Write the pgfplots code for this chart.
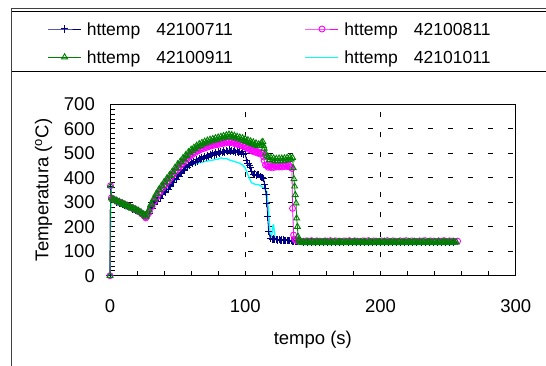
\documentclass[border=0pt]{standalone}
\usepackage{pgfplots}
\pgfplotsset{compat=1.18}
\usepackage{fontspec}
\setmainfont{Liberation Sans}
\definecolor{navyc}{RGB}{0,0,128}
\definecolor{magc}{RGB}{255,0,255}
\definecolor{grnc}{RGB}{0,128,0}
\definecolor{cyc}{RGB}{0,255,255}
\begin{document}
\begin{tikzpicture}
\useasboundingbox (0,0) rectangle (546bp,366bp);
\draw[line width=1bp, black!75] (11.7bp,-5bp) -- (11.7bp,357bp) -- (560bp,357bp);
\draw[line width=0.8bp] (11.7bp,354.3bp) -- (560bp,354.3bp);
\draw[line width=0.8bp] (11.7bp,294.3bp) -- (560bp,294.3bp);
\begin{axis}[
  scale only axis, width=405.7bp, height=171.4bp,
  at={(110bp,90.3bp)}, anchor=south west,
  xmin=0, xmax=300, ymin=0, ymax=700,
  xtick={0,100,200,300}, ytick={0,100,...,700},
  minor x tick num=4, minor y tick num=4,
  tick pos=left, tick align=inside,
  major tick length=5bp, minor tick length=4.5bp,
  tick style={line width=0.8bp, black},
  grid=major,
  major grid style={dash pattern=on 5bp off 15bp, dash phase=1.7bp, line width=0.7bp, black},
  axis line style={line width=1bp, black},
  clip=false,
  /pgf/number format/assume math mode=true,
  ticklabel style={font=\fontsize{18.5bp}{21bp}\selectfont},
  xticklabel style={anchor=base, yshift=-36.6bp},
  yticklabel style={anchor=east, inner sep=0pt, xshift=-15bp},
  every axis y label/.style={at={(axis description cs:-0.1639,0.5)}, rotate=90, anchor=center, font=\fontsize{18.5bp}{21bp}\selectfont},
  every axis x label/.style={at={(axis description cs:0.5,0)}, anchor=base, yshift=-68.3bp, font=\fontsize{18.5bp}{21bp}\selectfont},
  xlabel={tempo (s)},
  ylabel={Temperatura (\textsuperscript{o}C)},
  legend columns=2,
  legend cell align=left,
  legend style={draw=none, fill=none, at={(axis description cs:-0.1536,1.4936)}, anchor=north west,
    inner sep=0pt, outer sep=0pt, row sep=9.6bp,
    font=\fontsize{17.5bp}{20bp}\selectfont,
    nodes={inner sep=0pt, text height=16bp, text depth=2.6bp},
    /tikz/every odd column/.append style={column sep=5.3bp},
    /tikz/every even column/.append style={column sep=72bp}},
  legend image code/.code={\draw[mark repeat=2,mark phase=2] plot coordinates {(0bp,0bp) (16.5bp,0bp) (33bp,0bp)};},
]
% 42101011 (cyan) drawn first, beneath the others
\addplot[cyc, line width=1.3bp, forget plot] coordinates {
(0,0) (0.8,360) (1.2,312) (3,305) (5,300) (7,296) (9,291) (11,286) (13,281) (15,276) (17,271) (19,266) (21,260) (23,253) (25,246) (26.5,240)
(28,249) (30,268) (32,283) (34,298) (36,312) (38,325) (40,338) (42,348) (44,361) (46,375) (48,388) (50,401) (52,413) (54,425) (56,436) (58,445)
(60,452) (62,455) (64,458) (66,461) (68,463) (70,466) (72,468) (74,471) (76,472) (78,475) (80,476) (82,481) (84,478) (86,479) (88,473) (90,470)
(92,466) (94,463) (96,459) (98,452) (100,440) (101,425) (102.5,405) (104,386) (105,378) (107,374) (110,371) (112,365) (114,355) (116,343)
(117.3,262) (118.5,167) (119.5,160) (120.5,205) (121,207) (122,153) (124,148) (126,146) (130,144) (134,142) (138,140) (142,138)
(150,137) (160,137) (170,137) (180,137) (190,137) (200,137) (210,137) (220,137) (230,137) (240,137) (250,137) (255,137)
};
% 42100711 navy plus
\addplot[navyc, line width=0.8bp, mark=+, mark size=3.6bp, mark options={line width=1bp}] coordinates {
(0,0) (0.4,364) (1,312) (3,306) (5,301) (7,297) (9,292) (11,287) (13,282) (15,277) (17,272) (19,267) (21,261) (23,254) (25,247) (26.5,241)
(28,254) (29,256) (30,274) (31,274) (32,289) (33,289) (34,304) (35,303) (36,318) (37,317) (38,331) (39,330) (40,344) (41,341) (42,354) (43,353)
(44,367) (45,366) (46,381) (47,380) (48,395) (49,394) (50,408) (51,406) (52,420) (53,418) (54,432) (55,430) (56,444) (57,441) (58,454) (59,450)
(60,462) (61,457) (62,468) (63,463) (64,473) (65,468) (66,478) (67,473) (68,483) (69,478) (70,488) (71,482) (72,492) (73,486) (74,496) (75,490)
(76,499) (77,493) (78,502) (79,496) (80,505) (81,499) (82,507) (83,502) (84,509) (85,504) (86,511) (87,506) (88,513) (89,507) (90,512) (91,506)
(92,511) (93,502) (94,509) (95,503) (96,508) (97,499) (98,506) (99,496) (100,498) (101,470) (102,460) (103,452) (103.7,440) (105,425) (106,412)
(107,415) (108,410) (109,414) (110,412) (111,405) (112,402) (113,400) (113.6,398) (114.2,372) (114.8,357) (115.4,330) (116,296) (116.6,240)
(117.3,180) (118.5,153) (119,151) (120,149) (121,150) (122,147) (123,148) (124,146) (125,147) (126,145) (127,146) (128,146) (129,144) (130,145)
(131,145) (132,144) (133,143) (134,143) (135,141) (136,141) (137,140) (138,140) (139,139) (140,139)
(143,137) (146,136) (149,138) (152,136) (155,137) (158,135) (161,137) (164,136) (167,135) (170,137) (173,136) (176,135) (179,137) (182,136)
(185,135) (188,137) (191,136) (194,135) (197,137) (200,136) (203,135) (206,137) (209,136) (212,135) (215,137) (218,136) (221,135) (224,137)
(227,136) (230,135) (233,137) (236,136) (239,135) (242,137) (245,136) (248,135) (251,137) (254,136)
};
\addlegendentry{httemp\hspace{16bp}42100711}
% 42100811 magenta circles
\addplot[magc, line width=0.8bp, mark=o, mark size=3bp, mark options={line width=0.9bp}] coordinates {
(0,0) (0.4,368) (1,318) (2,313) (3,311) (4,308) (5,306) (6,303) (7,301) (8,298) (9,296) (10,293) (11,291) (12,288) (13,285) (14,283) (15,280)
(16,278) (17,275) (18,272) (19,270) (20,267) (21,264) (22,260) (23,256) (24,251) (25,246) (26,240) (26.5,236) (27.2,243)
(28,253) (29,259) (30,277) (31,283) (32,300) (33,304) (34,320) (35,324) (36,339) (37,341) (38,355) (39,357) (40,370) (41,371) (42,384) (43,385)
(44,398) (45,399) (46,412) (47,414) (48,427) (49,428) (50,440) (51,440) (52,452) (53,453) (54,465) (55,465) (56,477) (57,477) (58,488) (59,487)
(60,497) (61,495) (62,505) (63,503) (64,512) (65,509) (66,518) (67,515) (68,523) (69,519) (70,527) (71,523) (72,531) (73,527) (74,534) (75,530)
(76,537) (77,533) (78,540) (79,535) (80,542) (81,537) (82,544) (83,540) (84,546) (85,541) (86,548) (87,544) (88,549) (89,543) (90,548) (91,541)
(92,546) (93,538) (94,543) (95,535) (96,539) (97,531) (98,535) (99,527) (100,531) (101,522) (102,525) (103,515) (104,518) (105,509) (106,513)
(107,505) (108,509) (109,501) (110,505) (111,497) (112,501) (113,500) (113.6,485) (114,470) (115,452)
(116,450) (117,443) (118,449) (119,442) (120,447) (121,442) (122,449) (123,444) (124,451) (125,444) (126,449) (127,444) (128,451) (129,446)
(130,453) (131,446) (132,453) (133,445) (133.5,445) (134.5,438)
(135,275) (135.8,166) (136.5,150) (137.2,146) (138,143) (139,142) (140,141)
(141,141) (143,140) (145,142) (147,141) (149,143) (151,140) (153,142) (155,141) (157,140) (159,142) (161,141) (163,143) (165,140) (167,142)
(169,141) (171,140) (173,142) (175,141) (177,143) (179,140) (181,142) (183,141) (185,140) (187,142) (189,141) (191,143) (193,140) (195,142)
(197,141) (199,140) (201,142) (203,141) (205,143) (207,140) (209,142) (211,141) (213,140) (215,142) (217,141) (219,143) (221,140) (223,142)
(225,141) (227,140) (229,142) (231,141) (233,143) (235,140) (237,142) (239,141) (241,140) (243,142) (245,141) (247,143) (249,140) (251,142)
(253,141) (255,140) (257,141)
};
\addlegendentry{httemp\hspace{16bp}42100811}
% 42100911 green triangles
\addplot[grnc, line width=0.8bp, mark=triangle, mark size=3.4bp, mark options={line width=0.9bp}] coordinates {
(0,0) (0.4,366) (1,316) (2,311) (3,312) (4,305) (5,307) (6,300) (7,302) (8,295) (9,297) (10,290) (11,292) (12,285) (13,286) (14,280) (15,281)
(16,275) (17,277) (18,270) (19,272) (20,265) (21,266) (22,259) (23,259) (24,251) (25,251) (26,243) (26.5,242) (27.2,250)
(28,262) (29,268) (30,289) (31,292) (32,312) (33,314) (34,333) (35,334) (36,351) (37,350) (38,367) (39,365) (40,383) (41,381) (42,397) (43,394)
(44,411) (45,408) (46,425) (47,423) (48,441) (49,438) (50,455) (51,452) (52,467) (53,464) (54,481) (55,477) (56,493) (57,489) (58,505) (59,501)
(60,515) (61,510) (62,523) (63,518) (64,531) (65,526) (66,538) (67,531) (68,543) (69,537) (70,548) (71,541) (72,552) (73,545) (74,556) (75,549)
(76,559) (77,552) (78,562) (79,554) (80,565) (81,557) (82,568) (83,561) (84,571) (85,564) (86,574) (87,567) (88,577) (89,569) (90,575) (91,565)
(92,572) (93,561) (94,568) (95,558) (96,565) (97,554) (98,562) (99,551) (100,559) (101,547) (102,554) (103,542) (104,549) (105,538) (106,545)
(107,534) (108,541) (109,530) (110,537) (111,531) (112,543) (113,547) (113.6,530) (114,520) (115,500) (116,488)
(117,485) (118,474) (119,482) (120,471) (121,480) (122,469) (123,478) (124,468) (125,479) (126,470) (127,479) (128,469) (129,480) (130,471)
(131,482) (132,474) (133,484) (134,476) (135,482)
(135.5,440) (136,395) (136.5,365) (137,330) (137.6,296) (138,235) (138.6,200) (139,160) (139.5,148) (140,142)
(141,138) (142,135) (143,138) (144,134) (145,137) (146,139) (147,135) (148,137) (149,134) (150,138) (151,136) (152,134) (153,139) (154,136)
(155,135) (156,138) (157,134) (158,137) (159,139) (160,135) (161,137) (162,134) (163,138) (164,136) (165,135) (166,139) (167,136) (168,134)
(169,137) (170,139) (171,135) (172,137) (173,134) (174,138) (175,136) (176,135) (177,139) (178,136) (179,134) (180,137) (181,139) (182,135)
(183,137) (184,134) (185,138) (186,136) (187,135) (188,139) (189,136) (190,134) (191,137) (192,139) (193,135) (194,137) (195,134) (196,138)
(197,136) (198,135) (199,139) (200,136) (201,134) (202,137) (203,139) (204,135) (205,137) (206,134) (207,138) (208,136) (209,135) (210,139)
(211,136) (212,134) (213,137) (214,139) (215,135) (216,137) (217,134) (218,138) (219,136) (220,135) (221,139) (222,136) (223,134) (224,137)
(225,139) (226,135) (227,137) (228,134) (229,138) (230,136) (231,135) (232,139) (233,136) (234,134) (235,137) (236,139) (237,135) (238,137)
(239,134) (240,138) (241,136) (242,135) (243,139) (244,136) (245,134) (246,137) (247,139) (248,135) (249,137) (250,134) (251,138) (252,136)
(253,135) (254,139) (255,136) (256,137)
};
\addlegendentry{httemp\hspace{16bp}42100911}
\addlegendimage{cyc, line width=1.3bp}
\addlegendentry{httemp\hspace{16bp}42101011}
\end{axis}
\end{tikzpicture}
\end{document}
